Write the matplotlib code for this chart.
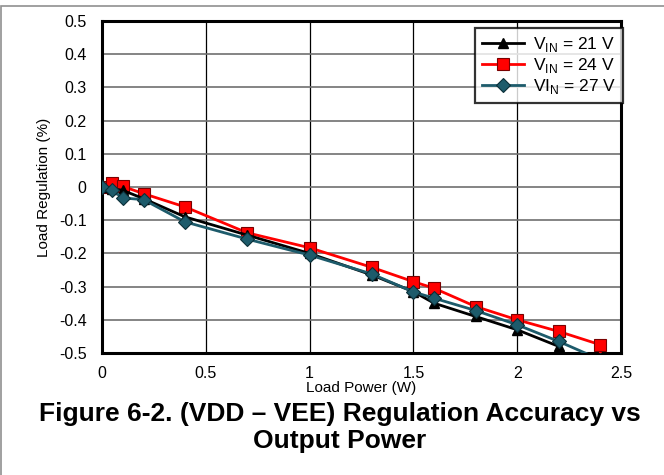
import numpy as np
import matplotlib
matplotlib.use("Agg")
import matplotlib.pyplot as plt
from matplotlib.patches import Rectangle

plt.rcParams["font.family"] = ["Liberation Sans", "DejaVu Sans"]

# load power (W) and load regulation (%) per input voltage
P21 = [0, 0.05, 0.1, 0.2, 0.4, 0.7, 1.0, 1.3, 1.5, 1.6, 1.8, 2.0, 2.2]
R21 = [0, -0.005, -0.01, -0.035, -0.09, -0.145, -0.2, -0.265, -0.315, -0.35, -0.39, -0.43, -0.48]
P24 = [0, 0.05, 0.1, 0.2, 0.4, 0.7, 1.0, 1.3, 1.5, 1.6, 1.8, 2.0, 2.2, 2.4, 2.41]
R24 = [0, 0.012, 0.002, -0.02, -0.06, -0.138, -0.183, -0.242, -0.285, -0.305, -0.36, -0.4, -0.435, -0.475, -0.9]
P27 = [0, 0.05, 0.1, 0.2, 0.4, 0.7, 1.0, 1.3, 1.5, 1.6, 1.8, 2.0, 2.2, 2.4]
R27 = [0, -0.01, -0.033, -0.038, -0.105, -0.157, -0.205, -0.262, -0.316, -0.335, -0.372, -0.415, -0.465, -0.52]

XTICKS = [0, 0.5, 1, 1.5, 2, 2.5]
XTICKLABELS = ["0", "0.5", "1", "1.5", "2", "2.5"]
YTICKS = np.round(np.arange(-0.5, 0.51, 0.1), 1)
YTICKLABELS = ["-0.5", "-0.4", "-0.3", "-0.2", "-0.1", "0", "0.1", "0.2", "0.3", "0.4", "0.5"]

TEAL = "#1d5b6b"

fig = plt.figure(figsize=(6.64, 4.75), dpi=100)
ax = fig.add_axes([0.1536, 0.2568, 0.7816, 0.699])

ax.plot(P21, R21, "-^", color="black", lw=2, ms=7, mec="black", label="V$_{\\mathregular{IN}}$ = 21 V", zorder=4)
ax.plot(P24, R24, "-s", color="#ff0000", lw=2, ms=8, mec="#7a0000", mew=0.8, label="V$_{\\mathregular{IN}}$ = 24 V", zorder=3)
ax.plot(P27, R27, "-D", color=TEAL, lw=2, ms=7, mec="#0b2f38", mew=0.8, label="VI$_{\\mathregular{N}}$ = 27 V", zorder=5)

ax.set_xlim(0, 2.5); ax.set_ylim(-0.5, 0.5)
ax.set_xticks(XTICKS); ax.set_xticklabels(XTICKLABELS)
ax.set_yticks(YTICKS); ax.set_yticklabels(YTICKLABELS)
ax.tick_params(length=0, labelsize=11.5)
ax.tick_params(axis="x", pad=9)
ax.tick_params(axis="y", pad=11)
ax.xaxis.grid(True, color="black", lw=0.9)
ax.yaxis.grid(True, color="#707070", lw=1.2)
ax.set_axisbelow(True)
for s in ax.spines.values():
    s.set_linewidth(2.2)
ax.set_xlabel("Load Power (W)", fontsize=11, labelpad=0)
ax.set_ylabel("Load Regulation (%)", fontsize=11, labelpad=6)

leg = ax.legend(loc="upper right", bbox_to_anchor=(1.004, 0.98), fontsize=12.5, frameon=True,
                fancybox=False, borderaxespad=0, handlelength=2.4, handletextpad=0.5,
                labelspacing=0.12, borderpad=0.4)
leg.get_frame().set_edgecolor("black"); leg.get_frame().set_linewidth(1.6)
leg.set_zorder(6)

fig.text(0.512, 0.1, "Figure 6-2. (VDD \u2013 VEE) Regulation Accuracy vs\nOutput Power",
         ha="center", va="center", fontsize=19, fontweight="bold", linespacing=1.2)

fig.patches.append(Rectangle((0.0015, -0.1), 1.2, 1.1 - 6 / 475, transform=fig.transFigure,
                             fill=False, edgecolor="#909090", lw=1.2))

fig.savefig("out.png", dpi=100)
